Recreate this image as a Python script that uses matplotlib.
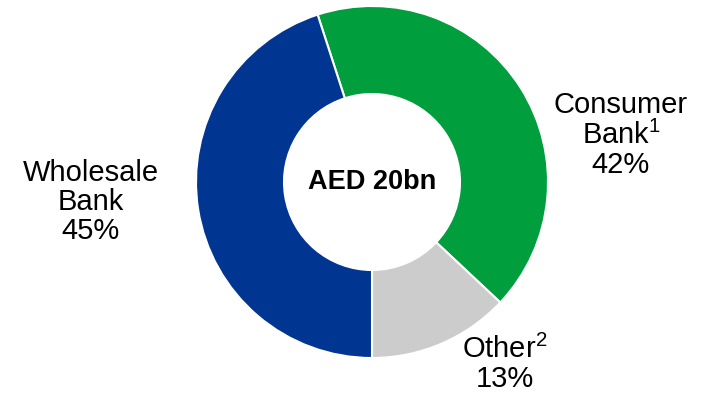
import matplotlib

matplotlib.use("Agg")
import matplotlib.pyplot as plt

# segments, clockwise from the top-left edge
LABELS = ["Consumer\nBank$^1$\n42%", "Other$^2$\n13%", "Wholesale\nBank\n45%"]
SHARES = [42, 13, 45]
COLORS = ["#009E3D", "#CCCCCC", "#003591"]
CENTER_TEXT = "AED 20bn"

plt.rcParams["font.family"] = ["Liberation Sans", "DejaVu Sans"]
plt.rcParams["mathtext.fontset"] = "custom"
plt.rcParams["mathtext.rm"] = "Liberation Sans"

fig = plt.figure(figsize=(7.04, 3.96), dpi=100)
ax = fig.add_axes([0, 0, 1, 1])

cx, cy, r = 372, 214, 176
ax.pie(SHARES, colors=COLORS, startangle=108, counterclock=False,
       center=(cx, cy), radius=r, frame=True,
       wedgeprops=dict(width=r * 0.5, edgecolor="white", linewidth=1.5))
ax.set_xlim(0, 704)
ax.set_ylim(0, 396)
ax.set_aspect("equal")
ax.axis("off")

ax.text(cx, cy, CENTER_TEXT, ha="center", va="center", fontsize=19.5, fontweight="bold")

txt = dict(ha="center", va="center", fontsize=21, linespacing=1.05)
ax.text(621, 261, LABELS[0], **txt)
ax.text(505, 32, LABELS[1], **txt)
ax.text(91, 194, LABELS[2], **txt)

fig.savefig("out.png", dpi=100)
